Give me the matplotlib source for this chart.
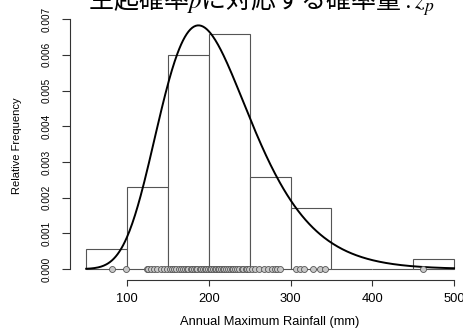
import numpy as np
import matplotlib
matplotlib.use("Agg")
import matplotlib.pyplot as plt

# ---- data ----
rainfall = [82, 99,
            124, 126, 129, 133, 137, 141, 145, 149,
            152, 155, 158, 160, 163, 166, 168, 171, 173, 175, 178, 180, 182, 184, 186, 189, 191, 193, 195, 197, 199,
            201, 203, 205, 207, 209, 211, 213, 215, 217, 219, 221, 223, 226, 228, 230, 232, 235, 237, 240, 242, 245, 247, 249,
            253, 257, 262, 267, 272, 277, 281, 284, 287,
            307, 312, 317, 328, 336, 342,
            462]
bin_edges = [50, 100, 150, 200, 250, 300, 350, 400, 450, 500]
gev_loc = 184.0      # fitted extreme-value curve: location (mm)
gev_scale = 54.0     # scale (mm)
gev_shape = -0.06    # shape (light upper tail)
x_ticks = [100, 200, 300, 400, 500]
y_ticks = [0.000, 0.001, 0.002, 0.003, 0.004, 0.005, 0.006, 0.007]
title = "生起確率$p$に対応する確率量$:z_p$"
xlabel = "Annual Maximum Rainfall (mm)"
ylabel = "Relative Frequency"

plt.rcParams['font.family'] = ['Liberation Sans', 'DejaVu Sans']
plt.rcParams['mathtext.fontset'] = 'stix'

fig = plt.figure(figsize=(4.63, 3.32), dpi=100)
ax = fig.add_axes([0.1685, 0.1575, 0.8298, 0.8064])

ax.hist(rainfall, bins=bin_edges, density=True, facecolor='white',
        edgecolor='#555555', linewidth=0.8, zorder=1)

xs = np.linspace(bin_edges[0], bin_edges[-1], 400)
z = (xs - gev_loc) / gev_scale
t = (1 + gev_shape * z) ** (-1.0 / gev_shape)
pdf = t ** (gev_shape + 1) * np.exp(-t) / gev_scale
ax.plot(xs, pdf, color='black', linewidth=1.4, zorder=3)

ax.plot(rainfall, np.zeros(len(rainfall)), linestyle='none', marker='o',
        markersize=4.3, markerfacecolor='#c8c8c8', markeredgecolor='#555555',
        markeredgewidth=0.6, zorder=4)

ax.set_xlim(40, 510)
ax.set_ylim(-0.0003, 0.0072)

for s in ['top', 'right']:
    ax.spines[s].set_visible(False)
ax.spines['left'].set_position(('outward', 5.5))
ax.spines['left'].set_bounds(0, 0.007)
ax.spines['bottom'].set_bounds(100, 500)
for s in ['left', 'bottom']:
    ax.spines[s].set_color('#333333')
    ax.spines[s].set_linewidth(0.8)

ax.set_xticks(x_ticks)
ax.set_xticklabels([str(t) for t in x_ticks], fontsize=9.3)
ax.set_yticks(y_ticks)
ax.set_yticklabels([f"{t:.3f}" for t in y_ticks], fontsize=7.2, rotation=90, va='center')
ax.tick_params(axis='x', direction='out', length=4.5, width=0.8, color='#333333', pad=5)
ax.tick_params(axis='y', direction='out', length=5.5, width=0.8, color='#333333', pad=8)

ax.set_xlabel(xlabel, fontsize=9.3, labelpad=8)
ax.set_ylabel(ylabel, fontsize=8, labelpad=14)

fig.text(0.19, 1 - 9.0 / 332, title, fontsize=18, va='baseline', ha='left',
         family=['Noto Sans CJK JP', 'DejaVu Sans'])

fig.savefig('out.png', dpi=100)
